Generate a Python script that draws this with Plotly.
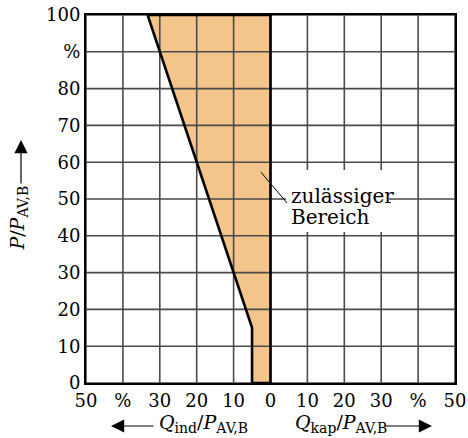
import plotly.graph_objects as go

# Permissible operating range: reactive power (negative = inductive) vs. active power, in %
region_q = [-33.3, -10, -5, -5, 0, 0]
region_p = [100, 30, 15, 0, 0, 100]

x_ticks = [-50, -40, -30, -20, -10, 0, 10, 20, 30, 40, 50]
x_labels = ["50", "%", "30", "20", "10", "0", "10", "20", "30", "%", "50"]
y_ticks = [0, 10, 20, 30, 40, 50, 60, 70, 80, 90, 100]
y_labels = ["0", "10", "20", "30", "40", "50", "60", "70", "80", "%", "100"]

FONT = "DejaVu Serif"
FILL = "#F3C58B"
GRID = "#4a4a4a"

fig = go.Figure()

# shaded region
fig.add_trace(go.Scatter(
    x=region_q + [region_q[0]], y=region_p + [region_p[0]],
    mode="none", fill="toself", fillcolor=FILL, hoverinfo="skip",
))

# grid drawn on top of the fill
gx, gy = [], []
for xv in x_ticks:
    gx += [xv, xv, None]
    gy += [y_ticks[0], y_ticks[-1], None]
for yv in y_ticks:
    gx += [x_ticks[0], x_ticks[-1], None]
    gy += [yv, yv, None]
fig.add_trace(go.Scatter(x=gx, y=gy, mode="lines",
                         line=dict(color=GRID, width=1.6), hoverinfo="skip"))

# region outline
fig.add_trace(go.Scatter(
    x=region_q + [region_q[0]], y=region_p + [region_p[0]],
    mode="lines", line=dict(color="black", width=2.6), hoverinfo="skip",
))

tick_font = dict(family=FONT, size=18, color="black")
fig.update_xaxes(
    range=[-50, 50], tickmode="array", tickvals=x_ticks, ticktext=x_labels,
    showgrid=False, zeroline=False, showline=True, mirror=True,
    linecolor="black", linewidth=2, ticks="", layer="above traces",
    automargin=False, tickfont=tick_font,
)
fig.update_yaxes(
    range=[0, 100], tickmode="array", tickvals=y_ticks, ticktext=y_labels,
    showgrid=False, zeroline=False, showline=True, mirror=True,
    linecolor="black", linewidth=2, ticks="", layer="above traces",
    automargin=False, tickfont=tick_font,
)

# label box with leader line
fig.add_shape(type="rect", xref="x", yref="y", x0=4.2, x1=32.1, y0=41.0, y1=57.9,
              fillcolor="white", line=dict(width=0), layer="above")
fig.add_shape(type="line", xref="x", yref="y", x0=-2.6, y0=57.3, x1=4.5, y1=48.9,
              line=dict(color="black", width=1), layer="above")
label_font = dict(family=FONT, size=20, color="black")
fig.add_annotation(x=5.0, y=50.8, xref="x", yref="y", text="zulässiger",
                   showarrow=False, xanchor="left", yanchor="middle", font=label_font)
fig.add_annotation(x=5.0, y=45.1, xref="x", yref="y", text="Bereich",
                   showarrow=False, xanchor="left", yanchor="middle", font=label_font)


def sub(s):
    return '<sub><span style="font-size:14px">' + s + "</span></sub>"


# axis titles
tfont = dict(family=FONT, size=19, color="black")
fig.add_annotation(xref="paper", yref="paper", x=(157 - 86) / 369, y=-0.111,
                   text="<i>Q</i>" + sub("ind") + "/<i>P</i>" + sub("AV,B"),
                   showarrow=False, xanchor="left", yanchor="middle", font=tfont)
fig.add_annotation(xref="paper", yref="paper", x=(293 - 86) / 369, y=-0.111,
                   text="<i>Q</i>" + sub("kap") + "/<i>P</i>" + sub("AV,B"),
                   showarrow=False, xanchor="left", yanchor="middle", font=tfont)
fig.add_annotation(xref="paper", yref="paper", x=-0.184, y=0.447,
                   text="<i>P</i>/<i>P</i>" + sub("AV,B"), textangle=-90,
                   showarrow=False, xanchor="center", yanchor="middle", font=tfont)

# direction arrows
arrow = dict(xref="paper", yref="paper", text="", showarrow=True,
             arrowhead=2, arrowsize=2.2, arrowwidth=1.2, arrowcolor="black")
fig.add_annotation(x=(111 - 86) / 369, y=(383 - 426) / 368, ax=44, ay=0, **arrow)
fig.add_annotation(x=(432 - 86) / 369, y=(383 - 426) / 368, ax=-48, ay=0, **arrow)
fig.add_annotation(x=(21 - 86) / 369, y=(383 - 140) / 368, ax=0, ay=45, **arrow)

fig.update_layout(
    width=468, height=438,
    margin=dict(l=86, r=13, t=15, b=55),
    plot_bgcolor="white", paper_bgcolor="white",
    showlegend=False,
)

fig.write_html("out.html")
